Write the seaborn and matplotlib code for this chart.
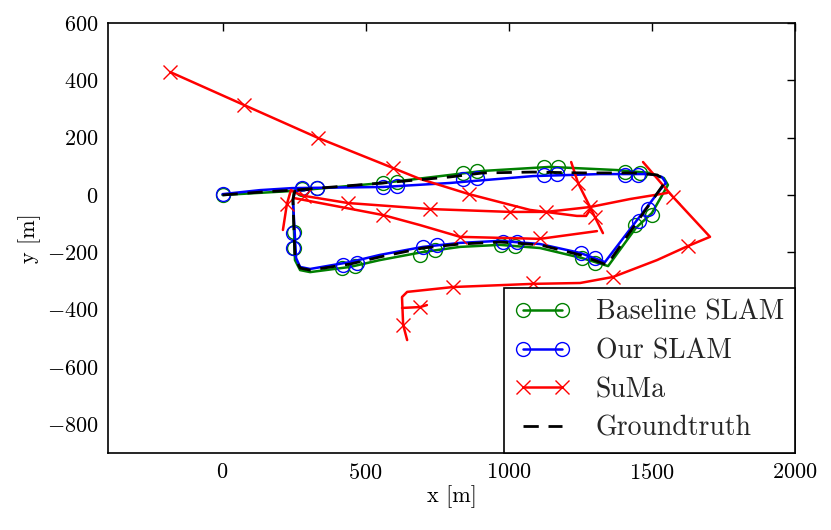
import numpy as np
import pandas as pd
import matplotlib
matplotlib.use("Agg")
import matplotlib.pyplot as plt
from matplotlib.lines import Line2D
import seaborn as sns

# ---------------- data (metres) ----------------
gt_x = [0, 131, 250, 561, 795, 910, 1085, 1260, 1434, 1518, 1546, 1539, 1343,
        1249, 1109, 969, 830, 700, 550, 445, 306, 271, 253, 246, 252, 300]
gt_y = [0, 10, 17, 42, 63, 77, 80, 77, 77, 70, 52, 35, -244,
        -209, -174, -164, -171, -185, -216, -241, -262, -255, -220, -17, 12, 20]

our_x = [0, 131, 243, 561, 795, 1085, 1319, 1493, 1535, 1549, 1528, 1336,
         1249, 1109, 969, 830, 700, 550, 445, 306, 271, 257, 246, 253, 288]
our_y = [3, 17, 24, 28, 42, 66, 73, 73, 63, 42, 17, -234,
         -202, -171, -160, -167, -181, -209, -234, -258, -251, -220, -17, 14, 17]
our_mx = [0, 278, 330, 561, 610, 840, 889, 1123, 1169, 1406, 1451, 1486, 1454,
          1301, 1252, 1029, 980, 749, 700, 470, 421, 246, 246]
our_my = [3, 24, 24, 28, 31, 56, 59, 70, 73, 70, 70, -49, -91,
          -220, -202, -164, -164, -174, -181, -237, -244, -185, -133]

base_x = [0, 243, 561, 795, 910, 1144, 1378, 1493, 1542, 1556, 1500, 1444, 1347,
          1256, 1109, 969, 830, 700, 550, 445, 306, 271, 253, 246, 250, 288]
base_y = [0, 14, 42, 70, 84, 98, 87, 77, 59, 35, -63, -115, -248,
          -220, -185, -174, -181, -199, -227, -251, -269, -262, -227, -17, 14, 17]
base_mx = [0, 278, 330, 561, 610, 840, 889, 1123, 1172, 1406, 1458, 1500, 1441,
           1301, 1256, 1022, 973, 742, 690, 463, 417, 250, 250]
base_my = [0, 21, 24, 42, 45, 77, 84, 98, 98, 80, 77, -70, -105,
           -237, -220, -178, -174, -192, -209, -248, -255, -185, -129]

# SuMa: several drifting pieces
suma_a_x = [-183, 75, 334, 596, 690, 861, 1074, 1238, 1270, 1284]
suma_a_y = [429, 314, 199, 94, 56, 3, -52, -73, -73, -52]
suma_b_x = [1218, 1242, 1284, 1301, 1329]
suma_b_y = [115, 42, -42, -77, -133]
suma_c_x = [211, 225, 239, 255, 285, 438, 725, 1004, 1130, 1284, 1424, 1553]
suma_c_y = [-122, -31, 17, 8, -3, -28, -49, -59, -59, -42, -14, 7]
suma_d_x = [246, 561, 690, 830, 1109, 1308]
suma_d_y = [-10, -70, -105, -146, -153, -126]
suma_e_x = [1469, 1574, 1703, 1626, 1518, 1364, 1249, 1085, 806, 645, 627, 631, 645]
suma_e_y = [115, -7, -146, -178, -227, -286, -307, -310, -321, -338, -356, -453, -506]
suma_f_x = [627, 690, 714]
suma_f_y = [-394, -391, -384]
suma_mx = [-183, 75, 334, 596, 861, 225, 285, 438, 725, 1004, 1130, 561, 830, 1109,
           1242, 1284, 1301, 1574, 1626, 1364, 1085, 806, 690, 631]
suma_my = [429, 314, 199, 94, 3, -31, -3, -28, -49, -59, -59, -70, -146, -150,
           42, -42, -77, -7, -178, -286, -307, -321, -391, -453]

labels = ["Baseline SLAM", "Our SLAM", "SuMa", "Groundtruth"]

# ---------------- style ----------------
sns.set_theme(style="white")
plt.rcParams.update({
    "font.family": ["serif"],
    "font.serif": ["cmr10", "DejaVu Serif"],
    "mathtext.fontset": "cm",
    "axes.formatter.use_mathtext": True,
    "axes.unicode_minus": True,
    "xtick.direction": "in",
    "ytick.direction": "in",
    "xtick.top": True,
    "ytick.right": True,
    "xtick.major.size": 6,
    "ytick.major.size": 6,
    "xtick.major.width": 1.0,
    "ytick.major.width": 1.0,
    "xtick.major.pad": 7,
    "ytick.major.pad": 7,
    "axes.linewidth": 1.2,
    "axes.edgecolor": "black",
})

fig = plt.figure(figsize=(8.31, 5.30), dpi=100)
ax = fig.add_axes([0.130, 0.1453, 0.8267, 0.8113])

LW = 1.8
MS = 10
DASH = (0, (5.5, 3.5))

def draw(xs, ys, color, **kw):
    df = pd.DataFrame({"x": xs, "y": ys})
    sns.lineplot(data=df, x="x", y="y", sort=False, estimator=None,
                 color=color, linewidth=LW, legend=False, ax=ax, **kw)

# Baseline SLAM (green)
draw(base_x, base_y, "green")
ax.plot(base_mx, base_my, linestyle="none", marker="o", ms=MS, mfc="none",
        mec="green", mew=1.0)
# Our SLAM (blue)
draw(our_x, our_y, "blue")
ax.plot(our_mx, our_my, linestyle="none", marker="o", ms=MS, mfc="none",
        mec="blue", mew=1.0)
# SuMa (red)
segs = [(suma_a_x, suma_a_y), (suma_b_x, suma_b_y), (suma_c_x, suma_c_y),
        (suma_d_x, suma_d_y), (suma_e_x, suma_e_y), (suma_f_x, suma_f_y)]
rows = []
for i, (sx, sy) in enumerate(segs):
    for a, b in zip(sx, sy):
        rows.append((i, a, b))
sdf = pd.DataFrame(rows, columns=["seg", "x", "y"])
sns.lineplot(data=sdf, x="x", y="y", units="seg", estimator=None, sort=False,
             color="red", linewidth=LW, legend=False, ax=ax)
ax.plot(suma_mx, suma_my, linestyle="none", marker="x", ms=MS, mec="red",
        mew=1.0)
# Groundtruth (black dashed)
gdf = pd.DataFrame({"x": gt_x, "y": gt_y})
ax.plot(gdf["x"], gdf["y"], color="black", linewidth=2.0, linestyle=DASH)

ax.set_xlim(-400, 2000)
ax.set_ylim(-900, 600)
ax.set_xticks([0, 500, 1000, 1500, 2000])
ax.set_yticks([-800, -600, -400, -200, 0, 200, 400, 600])
ax.tick_params(labelsize=16, colors="black")
ax.set_xlabel("x [m]", fontsize=16, color="black", labelpad=2)
ax.set_ylabel("y [m]", fontsize=16, color="black", labelpad=4)

handles = [
    Line2D([], [], color="green", lw=LW, marker="o", ms=MS, mfc="none", mec="green"),
    Line2D([], [], color="blue", lw=LW, marker="o", ms=MS, mfc="none", mec="blue"),
    Line2D([], [], color="red", lw=LW, marker="x", ms=MS, mec="red"),
    Line2D([], [], color="black", lw=2.0, linestyle=DASH),
]
leg = ax.legend(handles, labels, loc="lower right", borderaxespad=0.0,
                numpoints=2, handlelength=2.0, fontsize=20, fancybox=False,
                framealpha=1.0, edgecolor="black", labelspacing=0.45,
                borderpad=0.4, handletextpad=0.9)
leg.get_frame().set_linewidth(1.2)

fig.savefig("out.png", dpi=100, facecolor="white")
